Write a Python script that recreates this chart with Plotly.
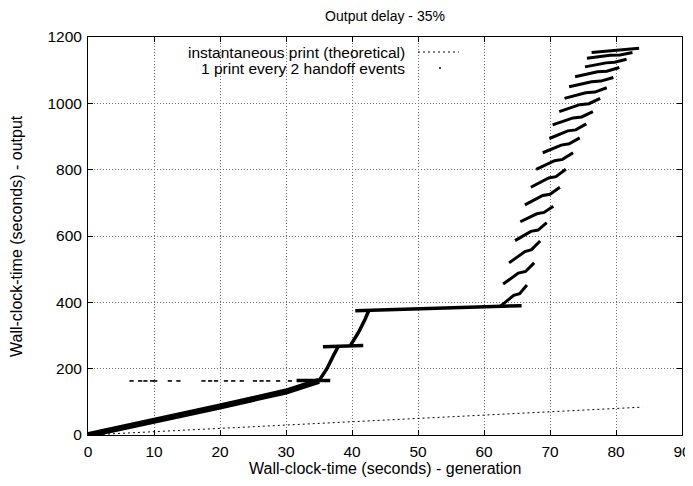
import plotly.graph_objects as go

# ---------------- data ----------------
# theoretical: instantaneous print (output time == generation time)
theory_x = [0, 84]
theory_y = [0, 84]

# measured: "1 print every 2 handoff events"
# early dense band
band_x = [0, 10, 20, 30, 35.0]
band_y = [0, 42, 86, 131, 163]

# plateau / rise pieces (each list is one stroke of points)
piece_x = [
    [31.6, 36.7],              # plateau ~164
    [35.0, 36.2, 37.2, 37.9],  # rise to ~266
    [35.6, 41.7],              # plateau ~268
    [39.8, 41.0, 42.0, 42.5],  # rise to ~373
    [40.5, 43.7, 49.8, 59.6, 65.7],  # long plateau ~375-390
]
piece_y = [
    [164.5, 164.5],
    [164, 200, 240, 266],
    [266, 270],
    [271, 310, 350, 373],
    [375, 377, 380, 387, 390],
]

# late staircase strokes
stroke_x = [
    [62.4, 64.5, 65.4, 66.5],
    [62.9, 65.2, 66.3, 67.6],
    [63.8, 66.2, 67.2, 68.5],
    [64.7, 67.1, 68.2, 69.5],
    [65.5, 68.0, 69.1, 70.5],
    [66.2, 68.9, 70.0, 71.5],
    [67.1, 69.8, 70.9, 72.4],
    [67.9, 70.7, 71.9, 73.5],
    [68.9, 71.7, 72.9, 74.5],
    [69.9, 72.7, 73.9, 75.5],
    [70.4, 73.5, 74.8, 76.5],
    [71.4, 74.5, 75.9, 77.6],
    [72.2, 75.4, 76.8, 78.6],
    [72.9, 76.3, 77.7, 79.6],
    [73.8, 77.2, 78.6, 80.5],
    [75.3, 78.5, 79.8, 81.6],
    [75.6, 79.1, 80.6, 82.5],
    [76.3, 79.9, 81.5, 83.5],
]
stroke_y = [
    [387, 421, 426, 452],
    [455, 488, 493, 519],
    [519, 553, 559, 585],
    [586, 614, 618, 640],
    [643, 667, 671, 690],
    [694, 722, 726, 747],
    [747, 775, 779, 801],
    [801, 827, 831, 851],
    [851, 874, 878, 896],
    [894, 917, 920, 938],
    [935, 956, 959, 975],
    [975, 996, 999, 1015],
    [1015, 1032, 1034, 1047],
    [1050, 1065, 1067, 1078],
    [1080, 1095, 1097, 1108],
    [1110, 1122, 1124, 1133],
    [1136, 1145, 1146, 1153],
    [1153, 1160, 1161, 1166],
]

# stray isolated prints at ~163 s
stray_x = [6.6, 7.9, 8.7, 9.7, 10.2, 12.4, 13.7, 17.5, 18.5,
           19.4, 20.9, 22.0, 23.3, 25.3, 26.3, 27.3, 28.8, 30.6]
stray_y = [163] * len(stray_x)

x_ticks = [0, 10, 20, 30, 40, 50, 60, 70, 80, 90]
y_ticks = [0, 200, 400, 600, 800, 1000, 1200]

title_text = "Output delay - 35%"
x_title = "Wall-clock-time (seconds) - generation"
y_title = "Wall-clock-time (seconds) - output"
legend_names = ["instantaneous print (theoretical)", "1 print every 2 handoff events"]

FS = 15.5
FONT = "Liberation Sans, Arial, sans-serif"
OFF = 8  # page body margin in the browser

W, H = 693 - OFF, 486 - OFF
ML, MT, MR, MB = 88 - OFF, 37 - OFF, 11, 51
PW, PH = W - ML - MR, H - MT - MB


def join(lists):
    out = []
    for i, l in enumerate(lists):
        if i:
            out.append(None)
        out.extend(l)
    return out


fig = go.Figure()

fig.add_trace(go.Scatter(x=theory_x, y=theory_y, mode="lines",
                         line=dict(color="black", width=1, dash="2px,3px"),
                         name=legend_names[0], showlegend=False, hoverinfo="skip"))

fig.add_trace(go.Scatter(x=band_x, y=band_y, mode="lines",
                         line=dict(color="black", width=6),
                         name=legend_names[1], showlegend=False, hoverinfo="skip"))

fig.add_trace(go.Scatter(x=join(piece_x), y=join(piece_y), mode="lines",
                         line=dict(color="black", width=3.5),
                         showlegend=False, hoverinfo="skip"))

fig.add_trace(go.Scatter(x=join(stroke_x), y=join(stroke_y), mode="lines",
                         line=dict(color="black", width=3),
                         showlegend=False, hoverinfo="skip"))

fig.add_trace(go.Scatter(x=stray_x, y=stray_y, mode="markers",
                         marker=dict(symbol="line-ew", size=3, color="black",
                                     line=dict(color="black", width=1.6)),
                         showlegend=False, hoverinfo="skip"))

axis_common = dict(
    ticks="inside", ticklen=5, tickcolor="black", tickwidth=1,
    showline=True, linecolor="black", linewidth=1, mirror="ticks",
    showgrid=True, gridcolor="#6e6e6e", gridwidth=1, griddash="1px,2px",
    zeroline=False, tickfont=dict(size=FS, color="black", family=FONT),
    automargin=False,
)

fig.update_xaxes(range=[0, 90], tickvals=x_ticks, ticktext=[str(v) for v in x_ticks],
                 ticklabelstandoff=2, **axis_common)
fig.update_yaxes(range=[0, 1200], tickvals=y_ticks, ticktext=[str(v) for v in y_ticks],
                 ticklabelstandoff=2, **axis_common)


def px_x(px):
    return (px - 88) / PW


def px_y(py):
    return (435 - py) / PH


# axis titles
fig.add_annotation(xref="paper", yref="paper", x=0.5, y=px_y(468),
                   xanchor="center", yanchor="middle", text=x_title, showarrow=False,
                   font=dict(size=16, family=FONT))
fig.add_annotation(xref="paper", yref="paper", x=px_x(16), y=0.5, textangle=-90,
                   xanchor="center", yanchor="middle", text=y_title, showarrow=False,
                   font=dict(size=16, family=FONT))

# key box (hides grid behind the key), key texts and samples
fig.add_shape(type="rect", xref="paper", yref="paper", x0=px_x(95), x1=px_x(470),
              y0=px_y(75), y1=1.0,
              fillcolor="white", line=dict(width=0), layer="between")
fig.add_annotation(xref="paper", yref="paper", x=px_x(407), y=px_y(52.5), xanchor="right",
                   yanchor="middle", text=legend_names[0], showarrow=False,
                   font=dict(size=FS, family=FONT))
fig.add_annotation(xref="paper", yref="paper", x=px_x(407), y=px_y(68.5), xanchor="right",
                   yanchor="middle", text=legend_names[1], showarrow=False,
                   font=dict(size=FS, family=FONT))
fig.add_shape(type="line", xref="paper", yref="paper", x0=px_x(418), x1=px_x(459),
              y0=px_y(52), y1=px_y(52),
              line=dict(color="black", width=1, dash="2px,3px"))
fig.add_shape(type="line", xref="paper", yref="paper", x0=px_x(439), x1=px_x(441),
              y0=px_y(68), y1=px_y(68),
              line=dict(color="black", width=1.5))

fig.update_layout(
    width=W, height=H,
    margin=dict(l=ML, r=MR, t=MT, b=MB),
    paper_bgcolor="white", plot_bgcolor="white",
    font=dict(family=FONT, size=FS, color="black"),
    title=dict(text=title_text, x=(385 - OFF) / W, xanchor="center",
               y=1 - (16 - OFF) / H, yanchor="middle",
               font=dict(size=14, family=FONT)),
    showlegend=False,
)

fig.write_html("out.html")
